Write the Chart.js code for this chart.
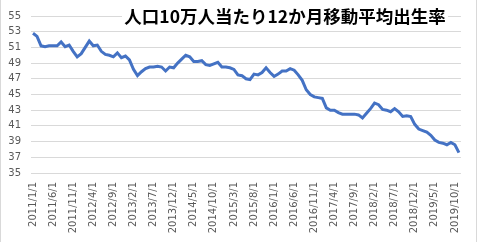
<!DOCTYPE html>
<html>
<head>
<meta charset="utf-8">
<script src="https://cdn.jsdelivr.net/npm/chart.js@4/dist/chart.umd.min.js"></script>
<style>
  body { margin: 0; background: #fff; }
  #wrap { position: relative; width: 480px; height: 242px; }
  #frame { position: absolute; left: 0; top: 0; width: 475px; height: 242px;
    border-left: 1px solid #d9d9d9; border-right: 1px solid #d9d9d9; pointer-events: none; }
  #title { position: absolute; left: 122px; top: 3px; width: 326px; height: 22px; line-height: 22px;
    text-align: center; background: #fff; color: #000;
    font: bold 17.5px "Noto Sans CJK JP", sans-serif; white-space: nowrap; }
</style>
</head>
<body>
<div id="wrap">
  <canvas id="birthChart" width="480" height="242"></canvas>
  <div id="frame"></div>
  <div id="title">人口10万人当たり12か月移動平均出生率</div>
</div>
<script>
// 2011/1 .. 2019/11, monthly
var start_year = 2011, start_month = 1, month_count = 107;
var label_step = 5;

var birth_rate = [
  52.8, 52.4, 51.2, 51.1, 51.2, 51.2, 51.2, 51.7, 51.1, 51.3,
  50.5, 49.8, 50.2, 51.0, 51.8, 51.2, 51.3, 50.5, 50.1, 50.0,
  49.8, 50.3, 49.7, 49.9, 49.4, 48.2, 47.4, 47.9, 48.3, 48.5,
  48.5, 48.6, 48.5, 48.0, 48.5, 48.4, 49.0, 49.5, 50.0, 49.8,
  49.2, 49.2, 49.3, 48.8, 48.7, 48.9, 49.1, 48.5, 48.5, 48.4,
  48.2, 47.5, 47.4, 47.0, 46.9, 47.6, 47.5, 47.8, 48.4, 47.8,
  47.3, 47.6, 48.0, 48.0, 48.3, 48.1, 47.5, 46.8, 45.6, 45.0,
  44.7, 44.6, 44.5, 43.3, 43.0, 43.0, 42.7, 42.5, 42.5, 42.5,
  42.5, 42.4, 42.0, 42.6, 43.2, 43.9, 43.7, 43.1, 43.0, 42.8,
  43.2, 42.8, 42.2, 42.3, 42.2, 41.2, 40.6, 40.4, 40.2, 39.8,
  39.2, 38.9, 38.8, 38.6, 38.9, 38.6, 37.6
];

var y_min = 35, y_max = 55, y_step = 2;

var month_labels = [];
for (var i = 0; i < month_count; i++) {
  var m = start_month - 1 + i;
  month_labels.push((start_year + Math.floor(m / 12)) + '/' + (m % 12 + 1) + '/1');
}

var tickFont = { family: 'DejaVu Sans', size: 10 };

var ctx = document.getElementById('birthChart').getContext('2d');
var chart = new Chart(ctx, {
  type: 'line',
  data: {
    labels: month_labels,
    datasets: [{
      data: birth_rate,
      borderColor: '#4472c4',
      borderWidth: 3,
      pointRadius: 0,
      tension: 0,
      fill: false
    }]
  },
  options: {
    responsive: false,
    animation: false,
    devicePixelRatio: 1,
    layout: { padding: { top: 12, right: 14, left: 0, bottom: 0 } },
    plugins: {
      legend: { display: false },
      tooltip: { enabled: false }
    },
    scales: {
      x: {
        type: 'category',
        offset: true,
        grid: { display: false, drawTicks: false },
        border: { display: false },
        ticks: {
          autoSkip: false,
          minRotation: 90,
          maxRotation: 90,
          padding: 9,
          color: '#595959',
          font: tickFont,
          callback: function (val, index) {
            return index % label_step === 0 ? this.getLabelForValue(val) : '';
          }
        },
        afterFit: function (scale) { scale.height = 69; }
      },
      y: {
        min: y_min,
        max: y_max,
        grid: { color: '#d9d9d9', lineWidth: 1, drawTicks: false },
        border: { display: false },
        ticks: {
          stepSize: y_step,
          padding: 10,
          color: '#595959',
          font: tickFont
        },
        afterFit: function (scale) { scale.width = 31; }
      }
    }
  }
});
</script>
</body>
</html>
